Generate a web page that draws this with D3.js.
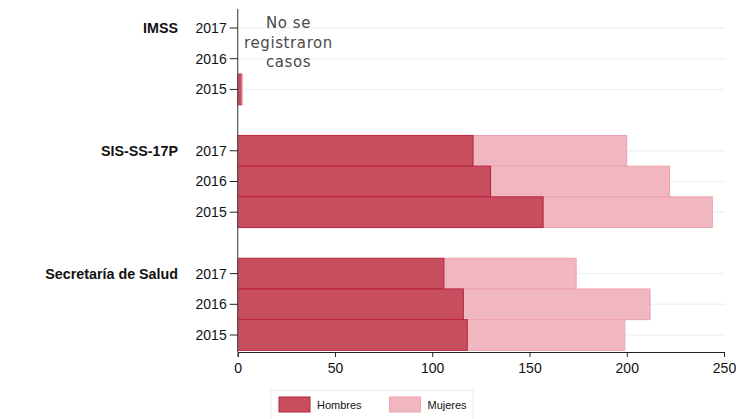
<!DOCTYPE html>
<html><head><meta charset="utf-8">
<script src="https://cdn.jsdelivr.net/npm/d3@7"></script>
<style>body{margin:0;background:#fff}svg{display:block}</style>
</head><body>
<svg id="c" width="736" height="419"></svg>
<script>
const groups = ["IMSS", "SIS-SS-17P", "Secretaría de Salud"];
const years = ["2017", "2016", "2015"];
const hombres = [[0, 0, 2], [121, 130, 157], [106, 116, 118]];
const mujeres = [[0, 0, 0], [79, 92, 87], [68, 96, 81]];
const xTicks = [0, 50, 100, 150, 200, 250];
const seriesNames = ["Hombres", "Mujeres"];
const colors = {Hombres: {fill: "#c84e5f", stroke: "#b8233c"}, Mujeres: {fill: "#f0b7c1", stroke: "#eda2b0"}};

const svg = d3.select("#c");
const rows = [];
groups.forEach((g, gi) => years.forEach((y, yi) => rows.push({g, gi, y, yi, idx: gi * 4 + yi, h: hombres[gi][yi], m: mujeres[gi][yi]})));

const x = d3.scaleLinear().domain([0, 250]).range([237.7, 724]);
const yPos = d3.scaleLinear().domain([0, 10]).range([28, 335]);
const band = 30.7;

// gridlines
svg.append("g").selectAll("line").data(rows).join("line")
  .attr("x1", x(0)).attr("x2", x(250) + 1)
  .attr("y1", d => yPos(d.idx)).attr("y2", d => yPos(d.idx))
  .attr("stroke", "#eef3f6").attr("stroke-width", 1.5);

// bars
const bars = svg.append("g");
rows.forEach(d => {
  const top = yPos(d.idx) - band / 2;
  if (d.m > 0) bars.append("rect").attr("x", x(d.h)).attr("y", top).attr("width", x(d.h + d.m) - x(d.h)).attr("height", band)
    .attr("fill", colors.Mujeres.fill).attr("stroke", colors.Mujeres.stroke).attr("stroke-width", 1);
  if (d.h > 0) bars.append("rect").attr("x", x(0)).attr("y", top).attr("width", x(d.h) - x(0)).attr("height", band)
    .attr("fill", colors.Hombres.fill).attr("stroke", colors.Hombres.stroke).attr("stroke-width", 1);
});
// IMSS thin bar pink edge
rows.filter(d => d.gi === 0 && d.h > 0).forEach(d => {
  bars.append("line").attr("x1", x(d.h) + 0.5).attr("x2", x(d.h) + 0.5)
    .attr("y1", yPos(d.idx) - band / 2).attr("y2", yPos(d.idx) + band / 2)
    .attr("stroke", colors.Mujeres.stroke).attr("stroke-width", 1.5);
});

// y axis line
svg.append("line").attr("x1", x(0)).attr("x2", x(0)).attr("y1", 9).attr("y2", 352)
  .attr("stroke", "#555").attr("stroke-width", 1.2);
// y ticks & year labels
const yl = svg.append("g");
rows.forEach(d => {
  yl.append("line").attr("x1", x(0) - 8).attr("x2", x(0)).attr("y1", yPos(d.idx)).attr("y2", yPos(d.idx)).attr("stroke", "#222");
  yl.append("text").attr("x", x(0) - 11).attr("y", yPos(d.idx)).attr("dy", "0.35em").attr("text-anchor", "end")
    .attr("font-family", "Liberation Sans, Arial, sans-serif").attr("font-size", 14).attr("fill", "#111").text(d.y);
});
// group labels
groups.forEach((g, gi) => {
  svg.append("text").attr("x", 178).attr("y", yPos(gi * 4)).attr("dy", "0.35em").attr("text-anchor", "end")
    .attr("font-family", "Liberation Sans, Arial, sans-serif").attr("font-weight", "bold").attr("font-size", 14.3).attr("fill", "#111").text(g);
});

// x axis
const xa = svg.append("g").attr("transform", "translate(0,352)")
  .call(d3.axisBottom(x).tickValues(xTicks).tickSize(5).tickPadding(6));
xa.select(".domain").attr("stroke", "#222");
xa.selectAll("line").attr("stroke", "#222");
xa.selectAll("text").attr("font-family", "Liberation Sans, Arial, sans-serif").attr("font-size", 14).attr("fill", "#111");

// annotation
const ann = svg.append("text").attr("text-anchor", "middle").attr("font-family", "DejaVu Sans, sans-serif")
  .attr("font-weight", "normal").attr("font-size", 15).attr("letter-spacing", 0.6).attr("fill", "#4a4a4a");
["No se", "registraron", "casos"].forEach((t, i) => ann.append("tspan").attr("x", 288.5).attr("y", 28 + i * 19.5).text(t));

// legend
const lg = svg.append("g");
lg.append("rect").attr("x", 271).attr("y", 390.5).attr("width", 202).attr("height", 40).attr("fill", "#fff").attr("stroke", "#e6edf2");
const lx = [279, 389.5];
seriesNames.forEach((s, i) => {
  lg.append("rect").attr("x", lx[i]).attr("y", 397).attr("width", 31).attr("height", 15)
    .attr("fill", colors[s].fill).attr("stroke", colors[s].stroke);
  lg.append("text").attr("x", lx[i] + 38).attr("y", 405).attr("dy", "0.35em")
    .attr("font-family", "Liberation Sans, Arial, sans-serif").attr("font-size", 11).attr("fill", "#111").text(s);
});
</script>
</body></html>
